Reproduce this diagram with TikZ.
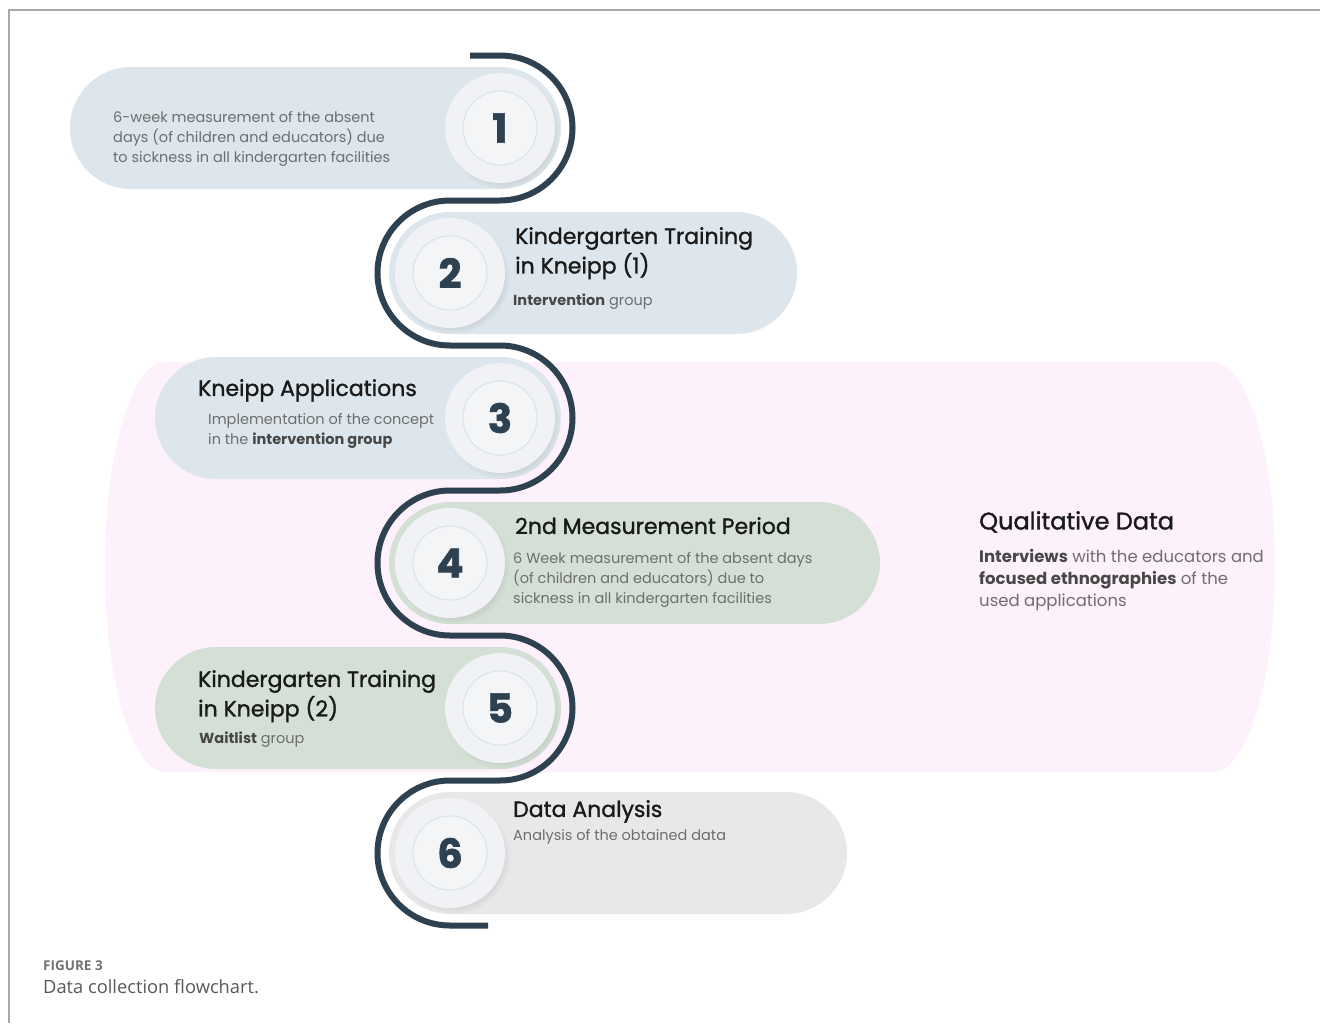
\documentclass[tikz,border=0pt]{standalone}
\usepackage{fontspec}
\setmainfont{Poppins}
\newfontfamily\titlefont{Poppins}[FakeBold=1.3]
\newfontfamily\numfont{Poppins}[BoldFeatures={FakeBold=1.6}]
\newfontfamily\capfont{Open Sans}
\usetikzlibrary{shapes.misc,shadows,calc}
\definecolor{pillB}{HTML}{DCE6EC}
\definecolor{pillG}{HTML}{D4E0D6}
\definecolor{pillY}{HTML}{E8E8E8}
\definecolor{pinkbg}{HTML}{FDF1FB}
\definecolor{snakec}{HTML}{2E4150}
\definecolor{circOut}{HTML}{F0F2F5}
\definecolor{circIn}{HTML}{F4F5F7}
\definecolor{circRing}{HTML}{E0E4E8}
\definecolor{bodyc}{HTML}{6E6E6E}
\definecolor{boldc}{HTML}{474747}
\definecolor{titlec}{HTML}{1A1A1A}
\definecolor{framec}{HTML}{A8A8A8}
\begin{document}
\begin{tikzpicture}[x=1pt,y=-1pt,
  pill/.style={rounded rectangle, inner sep=0, minimum height=122},
  outercirc/.style={circle, inner sep=0, minimum size=110, fill=circOut,
    circular drop shadow={shadow xshift=3pt, shadow yshift=-4pt, shadow scale=1.04, opacity=0.18}},
  numcirc/.style={circle, inner sep=0, minimum size=74, fill=circIn, draw=circRing, line width=1.2,
    text=snakec, font=\numfont\bfseries\fontsize{40}{40}\selectfont},
  snake/.style={draw=snakec, line width=6},
  title/.style={anchor=north west, inner sep=0, align=left, text=titlec, font=\titlefont\fontsize{22}{29.5}\selectfont},
  body/.style={anchor=north west, inner sep=0, align=left, text=bodyc, font=\fontsize{14.5}{20}\selectfont},
  qtitle/.style={anchor=north west, inner sep=0, align=left, text=titlec, font=\titlefont\fontsize{24}{30}\selectfont},
  qbody/.style={anchor=north west, inner sep=0, align=left, text=bodyc, font=\fontsize{16.5}{22}\selectfont},
  capa/.style={anchor=north west, inner sep=0, text=black!55, font=\capfont\bfseries\fontsize{13.5}{15}\selectfont},
  capb/.style={anchor=north west, inner sep=0, text=black!65, font=\capfont\fontsize{18.3}{22}\selectfont}
]
\useasboundingbox (0,0) rectangle (1320,1023);
\fill[white] (0,0) rectangle (1320,1023);
\draw[framec, line width=1.2] (9,1023) -- (9,10) -- (1320,10);
% pink background
\fill[pinkbg] (165,362) -- (1213,362) arc[start angle=-90,end angle=90,x radius=62,y radius=205]
  -- (165,772) arc[start angle=90,end angle=270,x radius=60,y radius=205] -- cycle;
% pills
\node[pill, fill=pillB, minimum width=491] (p1) at (315.5,128) {};
\node[pill, fill=pillB, minimum width=408] (p2) at (593,273) {};
\node[pill, fill=pillB, minimum width=406] (p3) at (358,418) {};
\node[pill, fill=pillG, minimum width=491] (p4) at (634.5,563) {};
\node[pill, fill=pillG, minimum width=406] (p5) at (358,708) {};
\node[pill, fill=pillY, minimum width=458] (p6) at (618,853) {};
% circles
\foreach \n/\x/\y in {1/500/128,2/450/273,3/500/418,4/450/563,5/500/708,6/450/853}{
  \node[outercirc] (o\n) at (\x,\y) {};
  \node[numcirc] (c\n) at (\x,\y) {\n};
}
% snake line
\coordinate (sstart) at ($(c1)+(-30,-72.5)$);
\coordinate (send) at ($(c6)+(38,72.5)$);
\draw[snake] (sstart) -- ($(c1)+(0,-72.5)$) arc[start angle=-90,end angle=90,radius=72.5]
  -- ($(c2)+(0,-72.5)$) arc[start angle=-90,end angle=-270,radius=72.5]
  -- ($(c3)+(0,-72.5)$) arc[start angle=-90,end angle=90,radius=72.5]
  -- ($(c4)+(0,-72.5)$) arc[start angle=-90,end angle=-270,radius=72.5]
  -- ($(c5)+(0,-72.5)$) arc[start angle=-90,end angle=90,radius=72.5]
  -- ($(c6)+(0,-72.5)$) arc[start angle=-90,end angle=-270,radius=72.5]
  -- (send);
% texts
\node[body] (t1) at (113,111) {6-week measurement of the absent\\days (of children and educators) due\\to sickness in all kindergarten facilities};
\node[title] (h2) at (515,227) {Kindergarten Training\\in Kneipp (1)};
\node[body] (t2) at (513,294) {\textcolor{boldc}{\bfseries Intervention} group};
\node[title] (h3) at (198,379) {Kneipp Applications};
\node[body] (t3) at (208,413) {Implementation of the concept\\in the \textcolor{boldc}{\bfseries intervention group}};
\node[title] (h4) at (515,517) {2nd Measurement Period};
\node[body] (t4) at (513,552) {6 Week measurement of the absent days\\(of children and educators) due to\\sickness in all kindergarten facilities};
\node[title] (h5) at (198,670) {Kindergarten Training\\in Kneipp (2)};
\node[body] (t5) at (199,732) {\textcolor{boldc}{\bfseries Waitlist} group};
\node[title] (h6) at (513,800) {Data Analysis};
\node[body] (t6) at (513,829) {Analysis of the obtained data};
\node[qtitle] (hq) at (979,511) {Qualitative Data};
\node[qbody] (tq) at (979,549) {\textcolor{boldc}{\bfseries Interviews} with the educators and\\\textcolor{boldc}{\bfseries focused ethnographies} of the\\used applications};
\node[capa] (cap1) at (43,961) {FIGURE 3};
\node[capb] (cap2) at (43,979) {Data collection flowchart.};
\end{tikzpicture}
\end{document}
